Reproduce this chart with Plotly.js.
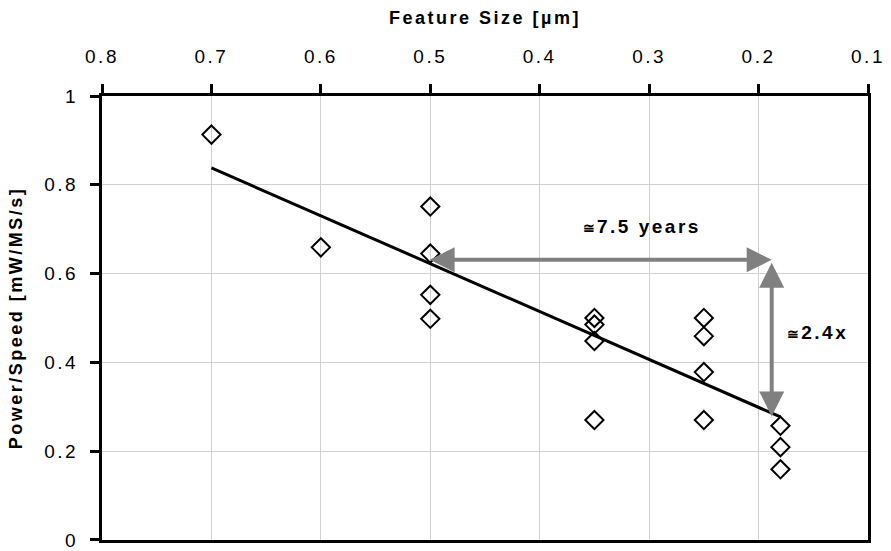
<!DOCTYPE html>
<html><head><meta charset="utf-8">
<script src="https://cdn.plot.ly/plotly-3.0.1.min.js"></script>
<style>
html,body{margin:0;padding:0;background:#fff;}
#chart text{letter-spacing:2.5px;}
</style></head>
<body><div id="chart" style="width:891px;height:551px;"></div>
<script>
// Data
const featureSize   = [0.7, 0.6, 0.5, 0.5, 0.5, 0.5, 0.35, 0.35, 0.35, 0.35, 0.25, 0.25, 0.25, 0.25, 0.18, 0.18, 0.18];
const powerPerSpeed = [0.913, 0.659, 0.751, 0.645, 0.552, 0.498, 0.500, 0.485, 0.448, 0.270, 0.500, 0.459, 0.378, 0.270, 0.257, 0.209, 0.159];
const trendX = [0.7, 0.18];
const trendY = [0.838, 0.277];
const xTickVals = [0.8, 0.7, 0.6, 0.5, 0.4, 0.3, 0.2, 0.1];
const xTickText = ['0.8', '0.7', '0.6', '0.5', '0.4', '0.3', '0.2', '0.1'];
const yTickVals = [0, 0.2, 0.4, 0.6, 0.8, 1];
const yTickText = ['0', '0.2', '0.4', '0.6', '0.8', '1'];
const arrowTimeX = [0.502, 0.188];
const arrowTimeY = [0.631, 0.631];
const arrowPowerX = [0.188, 0.188];
const arrowPowerY = [0.628, 0.278];
const labelText = ['7.5 years', '2.4x'];
const labelX = [0.307, 0.146];
const labelY = [0.706, 0.468];

const FONT = '"Liberation Sans", Arial, sans-serif';
const approx = '<span style="font-size:14px">≅</span>';

const traces = [
  {
    x: trendX, y: trendY, type: 'scatter', mode: 'lines',
    line: {color: '#000000', width: 3}, hoverinfo: 'skip', showlegend: false
  },
  {
    x: featureSize, y: powerPerSpeed, type: 'scatter', mode: 'markers',
    marker: {symbol: 'diamond-open', size: 14, color: '#000000', line: {color: '#000000', width: 2}},
    showlegend: false
  }
];

function arrowAnn(xs, ys) {
  return {
    x: xs[1], y: ys[1], ax: xs[0], ay: ys[0],
    xref: 'x', yref: 'y', axref: 'x', ayref: 'y',
    text: '', showarrow: true,
    arrowhead: 2, startarrowhead: 2, arrowside: 'end+start',
    arrowsize: 1.25, startarrowsize: 1.25, arrowwidth: 4,
    arrowcolor: '#808080', standoff: 0, startstandoff: 0
  };
}

const annotations = [
  arrowAnn(arrowTimeX, arrowTimeY),
  arrowAnn(arrowPowerX, arrowPowerY)
];
for (let i = 0; i < labelText.length; i++) {
  annotations.push({
    x: labelX[i], y: labelY[i], xref: 'x', yref: 'y',
    text: approx + labelText[i], showarrow: false,
    font: {family: FONT, size: 19, color: '#000000', weight: 700}
  });
}

const axisCommon = {
  showline: true, linewidth: 3, linecolor: '#000000', mirror: true,
  showgrid: true, gridcolor: '#d0d0d0', gridwidth: 1, zeroline: false,
  ticks: 'outside', ticklen: 9, tickwidth: 3, tickcolor: '#000000',
  tickfont: {family: FONT, size: 19, color: '#000000'}
};

const layout = {
  width: 891, height: 551,
  margin: {l: 102, r: 23, t: 96, b: 11, pad: 0},
  paper_bgcolor: '#ffffff', plot_bgcolor: '#ffffff',
  showlegend: false,
  xaxis: Object.assign({}, axisCommon, {
    side: 'top', range: [0.8, 0.1], autorange: false,
    tickmode: 'array', tickvals: xTickVals, ticktext: xTickText,
    ticklabelstandoff: 13,
    title: {text: 'Feature Size [µm]', font: {family: FONT, size: 18, color: '#000000', weight: 700}, standoff: 18}
  }),
  yaxis: Object.assign({}, axisCommon, {
    range: [-0.0002, 1], autorange: false,
    tickmode: 'array', tickvals: yTickVals, ticktext: yTickText,
    ticklabelstandoff: 8,
    ticklabeloverflow: 'allow',
    title: {text: 'Power/Speed [mW/MS/s]', font: {family: FONT, size: 18, color: '#000000', weight: 700}, standoff: 25}
  }),
  annotations: annotations
};

Plotly.newPlot('chart', traces, layout, {displayModeBar: false, staticPlot: true});
</script>
</body></html>
